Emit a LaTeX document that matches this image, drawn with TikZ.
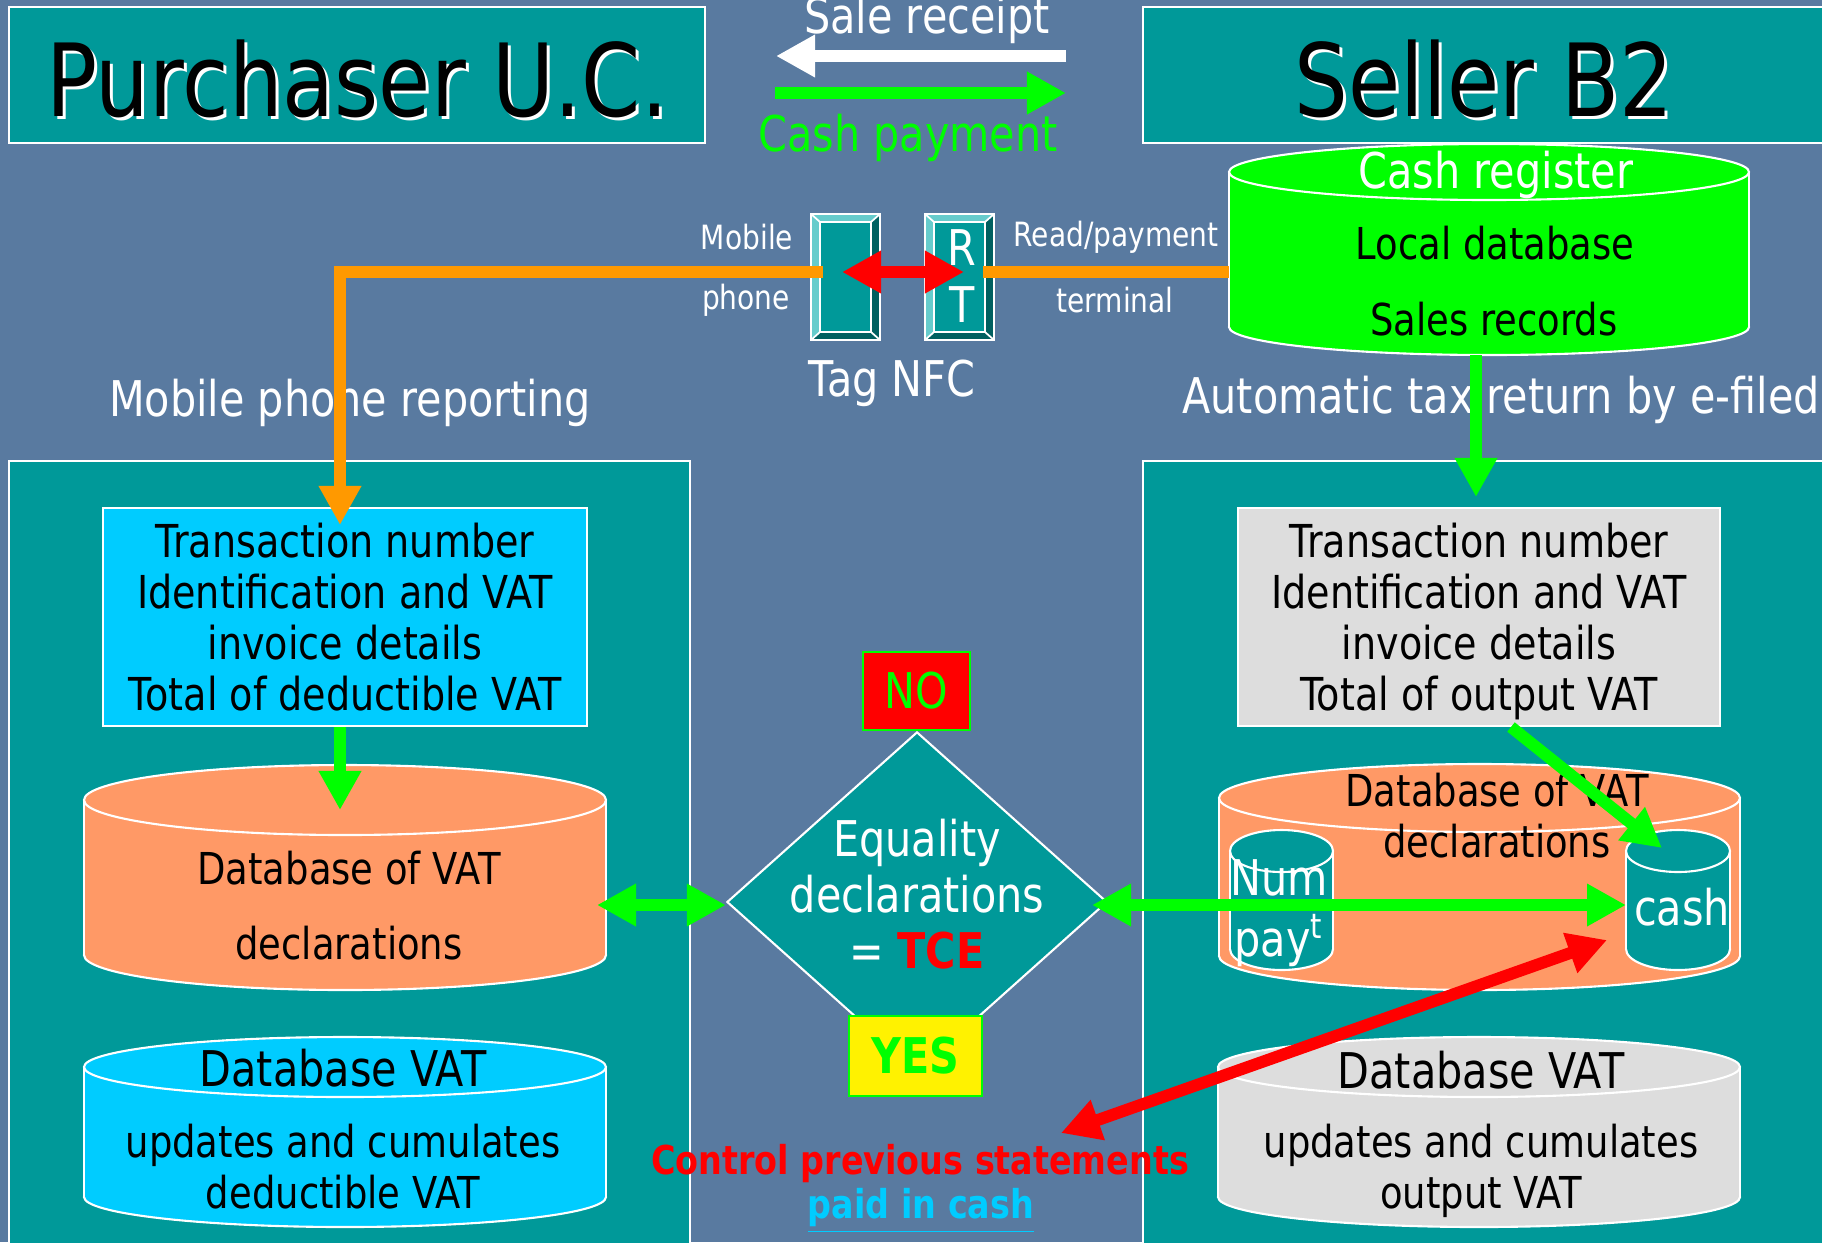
\documentclass[tikz,border=0pt]{standalone}
\usepackage{fontspec}
\setmainfont{DejaVu Sans}[FakeStretch=0.84]
\usepackage{tikz}
\usetikzlibrary{arrows.meta}
\usetikzlibrary{shapes.geometric}
\usetikzlibrary{calc}
\usepackage{xcolor}

\definecolor{slate}{RGB}{89,122,160}
\definecolor{panelteal}{RGB}{0,153,153}
\definecolor{skyfill}{RGB}{0,204,255}
\definecolor{salmon}{RGB}{255,153,102}
\definecolor{paleg}{RGB}{221,221,221}
\definecolor{lime}{RGB}{0,255,0}
\definecolor{amber}{RGB}{255,153,0}
\definecolor{bevlite}{RGB}{102,204,204}
\definecolor{bevdeep}{RGB}{0,96,96}

% name, cx, ytop, ybot, rx, ry, fill
\newcommand{\drum}[7]{%
  \filldraw[fill=#7, draw=white, line width=0.6pt] (#2,#4) ellipse [x radius=#5, y radius=#6];
  \fill[#7] ({#2-#5},#3) rectangle ({#2+#5},#4);
  \draw[white, line width=0.6pt] ({#2-#5},#3) -- ({#2-#5},#4) ({#2+#5},#3) -- ({#2+#5},#4);
  \filldraw[fill=#7, draw=white, line width=0.6pt] (#2,#3) ellipse [x radius=#5, y radius=#6];
  \coordinate (#1-w) at ({#2-#5},{(#3+#4)/2});
  \coordinate (#1-e) at ({#2+#5},{(#3+#4)/2});
  \coordinate (#1-s) at (#2,{#4+#6});
}

\tikzset{
  fat/.style={line width=3.4pt},
  onetip/.style={-{Triangle[length=3.9mm,width=4mm]}},
  twotips/.style={{Triangle[length=3.9mm,width=4mm]}-{Triangle[length=3.9mm,width=4mm]}},
  frame/.style={draw=white, line width=0.6pt, fill=panelteal, inner sep=0pt},
  tagbody/.style={fill=panelteal, draw=white, line width=0.5pt, inner sep=0pt,
    minimum width=0.67cm, minimum height=1.24cm},
  titletext/.style={font=\fontsize{28.7}{32}\selectfont},
  small/.style={font=\fontsize{9.5}{11}\selectfont, text=white},
  body/.style={font=\fontsize{12.5}{14.5}\selectfont, align=center},
  boxtext/.style={font=\fontsize{12.9}{14.5}\selectfont, align=center},
  big/.style={font=\fontsize{14}{16}\selectfont, align=center},
}

\begin{document}
\begin{tikzpicture}[x=0.01cm, y=-0.01cm]
\fill[slate] (0,0) rectangle (1822,1242);
\useasboundingbox (0,0) rectangle (1822,1242);

% headers and panels
\node[frame, minimum width=6.96cm, minimum height=1.36cm] (buyerbox) at (357,75) {};
\node[frame, minimum width=6.87cm, minimum height=1.36cm] (sellerbox) at (1486.5,75) {};
\node[titletext, white] (buyershade) at (360,82) {Purchaser U.C.};
\node[titletext] (buyer) at (357,79) {Purchaser U.C.};
\node[titletext, white] (sellershade) at (1487,82) {Seller B2};
\node[titletext] (seller) at (1484,79) {Seller B2};
\node[frame, minimum width=6.81cm, minimum height=8.01cm] (buypanel) at (349.5,861.5) {};
\node[frame, minimum width=6.87cm, minimum height=8.01cm] (sellpanel) at (1486.5,861.5) {};

\node[big, text=white] (salelbl) at (927,20) {Sale receipt};
\node[big, text=lime] (paylbl) at (908,138) {Cash payment};

% NFC tags
\foreach \nm/\cx in {tagL/845.5, tagR/959.5} {
  \node[tagbody] (\nm) at (\cx,277) {};
  \fill[bevlite] (\nm.north west) -- (\nm.north east) -- ($(\nm.north east)+(-9,8)$)
    -- ($(\nm.north west)+(9,8)$) -- ($(\nm.south west)+(9,-8)$) -- (\nm.south west) -- cycle;
  \fill[bevdeep] (\nm.south east) -- (\nm.north east) -- ($(\nm.north east)+(-9,8)$)
    -- ($(\nm.south east)+(-9,-8)$) -- ($(\nm.south west)+(9,-8)$) -- (\nm.south west) -- cycle;
  \draw[white, line width=0.5pt] (\nm.north west) rectangle (\nm.south east)
    ($(\nm.north west)+(9,8)$) rectangle ($(\nm.south east)+(-9,-8)$)
    (\nm.north west) -- ($(\nm.north west)+(9,8)$)
    (\nm.north east) -- ($(\nm.north east)+(-9,8)$)
    (\nm.south west) -- ($(\nm.south west)+(9,-8)$)
    (\nm.south east) -- ($(\nm.south east)+(-9,-8)$);
}
\node[big, text=white, font=\fontsize{14}{16.2}\selectfont] (rtlbl) at (962,276) {R\\T};
\node[small] (mobilelbl) at (747,237) {Mobile};
\node[small] (phonelbl) at (746,300) {phone};
\node[small] (readlbl) at (1116,237) {Read/payment};
\node[small] (termlbl) at (1115,300) {terminal};
\node[big, text=white] (nfclbl) at (892,383) {Tag NFC};

% cash register
\drum{till}{1489}{172}{327}{260}{28}{lime}
\node[big, text=white] (tilltop) at (1496,175) {Cash register};
\node[body] (tilldb) at (1495,243) {Local database};
\node[body] (tillsales) at (1494,319) {Sales records};

\node[big, text=white] (reportlbl) at (350,403) {Mobile phone reporting};
\node[big, text=white] (autolbl) at (1501,400) {Automatic tax return by e-filed};

% purchaser side
\node[boxtext, draw=white, line width=0.6pt, fill=skyfill, minimum width=4.84cm, minimum height=2.18cm]
  (buyinfo) at (345,617) {Transaction number\\Identification and VAT\\invoice details\\Total of deductible VAT};
\drum{buydb}{345}{800}{955}{261}{35}{salmon}
\node[body] (buydb1) at (349,868) {Database of VAT};
\node[body] (buydb2) at (349,943) {declarations};
\drum{buyvat}{345}{1067}{1197}{261}{30}{skyfill}
\node[big] (buyvat1) at (343,1068) {Database VAT};
\node[body] (buyvat2) at (343,1167) {updates and cumulates\\deductible VAT};

% seller side
\node[boxtext, draw=white, line width=0.6pt, fill=paleg, minimum width=4.82cm, minimum height=2.18cm]
  (sellinfo) at (1479,617) {Transaction number\\Identification and VAT\\invoice details\\Total of out\smash{p}ut VAT};
\drum{selldb}{1479.5}{798}{956}{260.5}{34}{salmon}
\node[body] (selldb1) at (1497,816) {Database of VAT\\declarations};
\drum{numdb}{1281.5}{851}{949}{51.5}{21}{panelteal}
\node[big, text=white, font=\fontsize{14}{17.5}\selectfont] (numlbl) at (1279,913) {Num\\pay\textsuperscript{t}};
\drum{cashdb}{1678}{851}{949}{52}{21}{panelteal}
\node[big, text=white] (cashlbl) at (1682,907) {cash};
\drum{sellvat}{1479}{1067}{1197}{261}{30}{paleg}
\node[big] (sellvat1) at (1481,1070) {Database VAT};
\node[body] (sellvat2) at (1481,1167) {updates and cumulates\\out\smash{p}ut VAT};

% check
\node[diamond, draw=white, line width=0.6pt, fill=panelteal, minimum width=3.8cm, minimum height=3.4cm,
  inner sep=0pt] (dia) at (917,902) {};
\node[big, text=white] (dialbl) at (917,894) {Equality\\declarations\\= \textcolor{red}{\textbf{TCE}}};
\node[draw=lime, line width=0.6pt, fill=red, minimum width=1.07cm, minimum height=0.78cm,
  big, text=lime] (no) at (916.5,691) {NO};
\node[draw=lime, line width=0.6pt, fill=yellow, minimum width=1.33cm, minimum height=0.8cm,
  big, text=lime] (yes) at (915.5,1056) {\textbf{YES}};
\node[font=\fontsize{11.3}{13}\selectfont\bfseries, text=red] (ctrl) at (920,1164) {Control previous statements};
\node[font=\fontsize{11.3}{13}\selectfont\bfseries, text=skyfill] (cashpaid) at (921,1211) {\underline{paid in cash}};

% connectors
\coordinate (rcptA) at (1066,56);
\coordinate (rcptB) at (776,56);
\coordinate (payA) at (775,93);
\coordinate (payB) at (1066,93);
\coordinate (orgL) at (823,272);
\coordinate (orgDrop) at (340,525);
\coordinate (orgR) at (983,272);
\coordinate (nfcA) at (842,272);
\coordinate (nfcB) at (964,272);
\coordinate (taxB) at (1476,497);
\coordinate (declB) at (340,810);
\coordinate (eqL) at (597,905);
\coordinate (eqR) at (1092,905);
\coordinate (diagA) at (1511,727);
\coordinate (diagB) at (1662,848);
\coordinate (ctrlA) at (1061,1133);
\coordinate (ctrlB) at (1607,940);

\draw[fat, white, onetip] (rcptA) -- (rcptB);
\draw[fat, lime, onetip] (payA) -- (payB);
\draw[fat, amber, onetip] (orgL) -| (orgDrop);
\draw[fat, amber] (orgR) -- (orgR -| till-w);
\draw[fat, red, twotips] (nfcA) -- (nfcB);
\draw[fat, lime, onetip] (taxB |- till-s) -- (taxB);
\draw[fat, lime, onetip] (buyinfo.south -| declB) -- (declB);
\draw[fat, lime, twotips] (eqL) -- (eqL -| dia.west);
\draw[fat, lime, twotips] (eqR) -- (eqR -| cashdb-w);
\draw[fat, lime, onetip] (diagA) -- (diagB);
\draw[fat, red, twotips] (ctrlA) -- (ctrlB);
\end{tikzpicture}
\end{document}
